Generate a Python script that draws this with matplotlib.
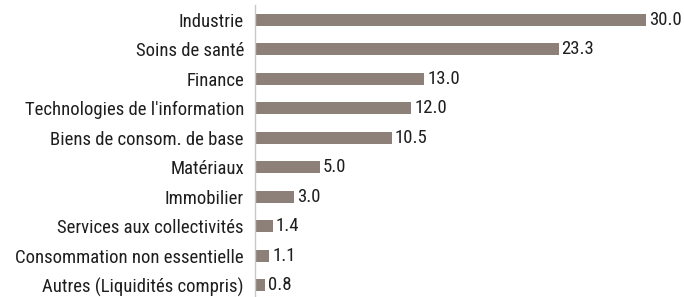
import matplotlib.pyplot as plt

categories = ["Industrie", "Soins de santé", "Finance", "Technologies de l'information",
              "Biens de consom. de base", "Matériaux", "Immobilier",
              "Services aux collectivités", "Consommation non essentielle",
              "Autres (Liquidités compris)"]
values = [30.0, 23.3, 13.0, 12.0, 10.5, 5.0, 3.0, 1.4, 1.1, 0.8]

plt.rcParams['font.family'] = ['Roboto Condensed', 'DejaVu Sans']

fig = plt.figure(figsize=(6.84, 2.97), dpi=100)
ax = fig.add_axes([255 / 684, 0, 429 / 684, 292 / 297])

pos = list(range(len(categories)))
ax.barh(pos, values, height=0.42, color='#8c8078')
for p, v in zip(pos, values):
    ax.annotate(f"{v:.1f}", (v, p), xytext=(2, 0), textcoords='offset points',
                va='center', ha='left', fontsize=13.5, color='#1e1e1e')

ax.set_yticks(pos)
ax.set_yticklabels(categories, fontsize=13.5, color='#1e1e1e')
ax.tick_params(axis='y', length=0, pad=8)
ax.set_xticks([])
ax.set_xlim(0, 30 * 429 / 391)
ax.set_ylim(9.4, -0.5)
for s in ['top', 'right', 'bottom']:
    ax.spines[s].set_visible(False)
ax.spines['left'].set_color('#c8c8c8')
ax.spines['left'].set_linewidth(1)

plt.savefig('out.png', dpi=100)
